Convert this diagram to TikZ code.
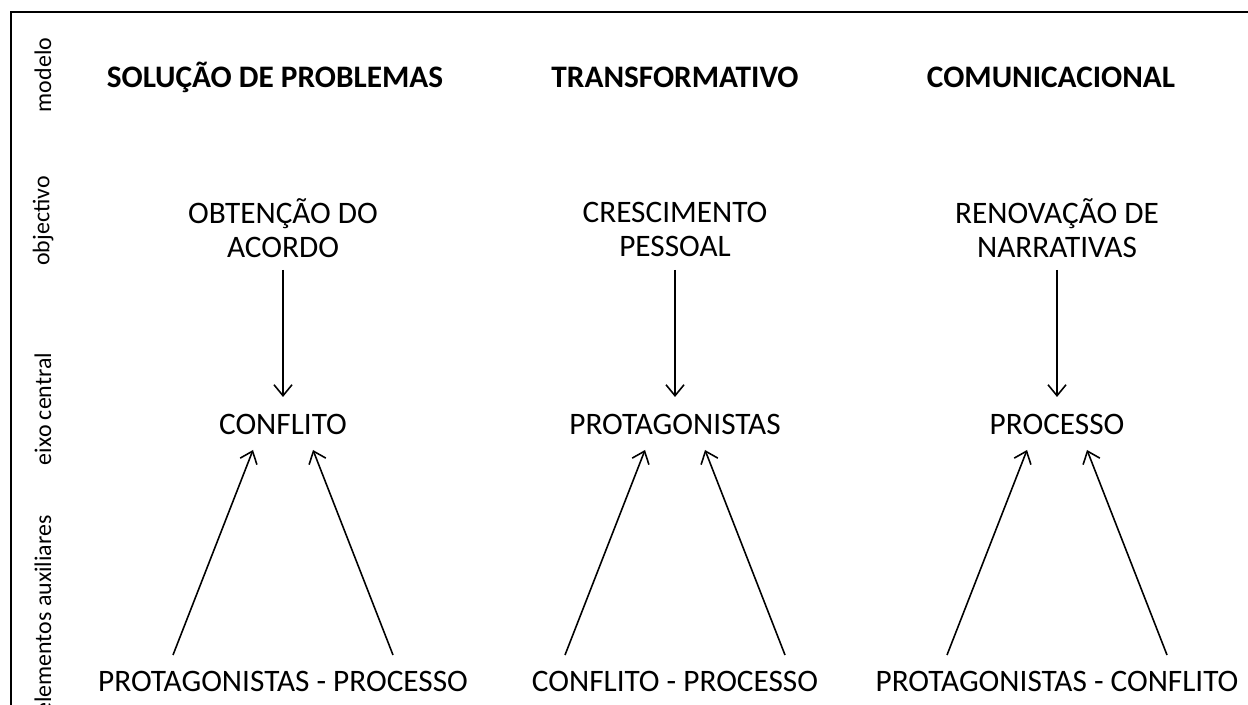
\documentclass[tikz,border=0pt]{standalone}
\usepackage{fontspec}
\setmainfont{Carlito}
\usetikzlibrary{arrows.meta}
\begin{document}
\begin{tikzpicture}[>={Straight Barb[length=1.1mm,width=1.8mm]},
		txt/.style={font=\fontsize{8.9}{9.6}\selectfont,align=center,inner sep=0pt},
		head/.style={txt,font=\fontsize{8.9}{9.6}\selectfont\bfseries},
		side/.style={font=\fontsize{6.8}{8}\selectfont,rotate=90,inner sep=0pt},
		arr/.style={->,line width=0.45pt}]
	\useasboundingbox (0,0) rectangle (12.48,7.05);
	\draw[line width=0.7pt] (12.48,6.93)--(0.11,6.93)--(0.11,0);
	\node[side] (lmod) at (0.43,6.30){modelo};
	\node[side] (lobj) at (0.43,4.84){objectivo};
	\node[side] (leixo) at (0.43,2.96){eixo central};
	\node[side] (laux) at (0.43,0.90){elementos auxiliares};
	\foreach \cx/\hx/\hd/\obj/\eixo/\aux [count=\i] in {2.83/2.75/SOLUÇÃO DE PROBLEMAS/OBTENÇÃO DO\strut\\ACORDO\strut/CONFLITO/PROTAGONISTAS - PROCESSO,6.75/6.75/TRANSFORMATIVO/CRESCIMENTO\strut\\PESSOAL\strut/PROTAGONISTAS/CONFLITO - PROCESSO,10.57/10.51/COMUNICACIONAL/RENOVAÇÃO DE\strut\\NARRATIVAS\strut/PROCESSO/PROTAGONISTAS - CONFLITO}{
		\node[head,anchor=base] (m\i) at (\hx,6.17){\hd};
		\node[txt] (o\i) at (\cx,4.72){\obj};
		\node[txt,anchor=base] (e\i) at (\cx,2.70){\eixo};
		\node[txt,anchor=base] (a\i) at (\cx,0.13){\aux};
		\draw[arr] ([yshift=-0.37cm]o\i.center)--([yshift=0.38cm]e\i.base);
		\draw[arr] ([shift={(-1.1,0.37)}]a\i.base)--([shift={(-0.3,-0.15)}]e\i.base);
		\draw[arr] ([shift={(1.1,0.37)}]a\i.base)--([shift={(0.3,-0.15)}]e\i.base);
	}
\end{tikzpicture}
\end{document}
